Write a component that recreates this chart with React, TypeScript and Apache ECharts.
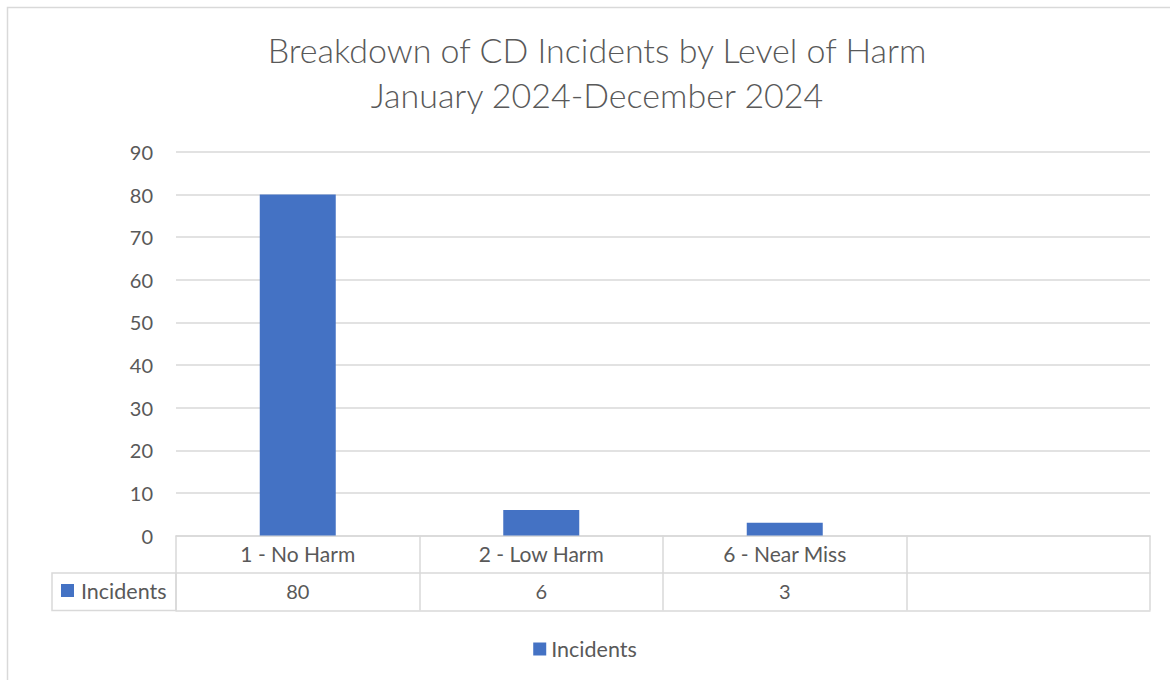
import React, { useEffect, useRef } from "react";
import * as echarts from "echarts";

const titleLines = ["Breakdown of CD Incidents by Level of Harm", "January 2024-December 2024"];
const categories = ["1 - No Harm", "2 - Low Harm", "6 - Near Miss", ""];
const seriesName = "Incidents";
const incidents: (number | null)[] = [80, 6, 3, null];
const yMin = 0;
const yMax = 90;
const yInterval = 10;

const FONT = "Lato";
const TEXT = "#595959";
const GRID = "#D9D9D9";
const BAR = "#4472C4";

export default function App() {
  const ref = useRef<HTMLDivElement>(null);
  useEffect(() => {
    document.body.style.margin = "0";
    if (!ref.current) return;
    const chart = echarts.init(ref.current, null, { renderer: "svg" });
    const tableValues = incidents.map((v) => (v == null ? "" : String(v)));
    chart.setOption({
      animation: false,
      backgroundColor: "#ffffff",
      textStyle: { fontFamily: FONT, color: TEXT },
      title: {
        text: titleLines.join("\n"),
        left: 592,
        top: 22,
        textAlign: "center",
        textStyle: { fontFamily: FONT, fontSize: 34, fontWeight: 300, color: TEXT, lineHeight: 45 },
      },
      legend: {
        data: [seriesName],
        left: "center",
        top: 633,
        icon: "rect",
        itemWidth: 13,
        itemHeight: 13,
        itemGap: 6,
        textStyle: { fontFamily: FONT, fontSize: 21.5, color: TEXT },
      },
      grid: { left: 176, right: 20, top: 152, bottom: 144.5, containLabel: false },
      xAxis: [
        {
          type: "category",
          data: categories,
          position: "bottom",
          axisLine: { show: true, lineStyle: { color: GRID, width: 1.5 } },
          axisTick: { show: true, alignWithLabel: false, length: 75, lineStyle: { color: GRID, width: 1.5 } },
          axisLabel: { fontFamily: FONT, fontSize: 21, color: TEXT, margin: 7 },
        },
        {
          type: "category",
          data: tableValues,
          position: "bottom",
          offset: 37.5,
          axisLine: { show: true, lineStyle: { color: GRID, width: 1.5 } },
          axisTick: { show: false },
          axisLabel: { fontFamily: FONT, fontSize: 20, color: TEXT, margin: 8 },
        },
        {
          type: "category",
          data: categories,
          position: "bottom",
          offset: 75,
          axisLine: { show: true, lineStyle: { color: GRID, width: 1.5 } },
          axisTick: { show: false },
          axisLabel: { show: false },
        },
      ],
      yAxis: {
        type: "value",
        min: yMin,
        max: yMax,
        interval: yInterval,
        axisLine: { show: false },
        axisTick: { show: false },
        axisLabel: { fontFamily: FONT, fontSize: 20, color: TEXT, margin: 23 },
        splitLine: { lineStyle: { color: GRID, width: 1.5 } },
      },
      series: [
        {
          name: seriesName,
          type: "bar",
          data: incidents,
          barWidth: 76,
          itemStyle: { color: BAR },
        },
      ],
      graphic: [
        {
          type: "rect",
          shape: { x: 7.5, y: 7.5, width: 1175, height: 690 },
          style: { fill: "none", stroke: GRID, lineWidth: 1.5 },
          silent: true,
        },
        {
          type: "rect",
          shape: { x: 52, y: 573, width: 124, height: 37.5 },
          style: { fill: "none", stroke: GRID, lineWidth: 1.5 },
          silent: true,
        },
        {
          type: "rect",
          shape: { x: 61, y: 584, width: 13, height: 13 },
          style: { fill: BAR },
          silent: true,
        },
        {
          type: "text",
          x: 81,
          y: 591,
          style: { text: seriesName, fontFamily: FONT, fontSize: 21.5, fill: TEXT, textVerticalAlign: "middle" },
          silent: true,
        },
      ],
    });
    return () => chart.dispose();
  }, []);
  return <div ref={ref} style={{ width: 1170, height: 680 }} />;
}
